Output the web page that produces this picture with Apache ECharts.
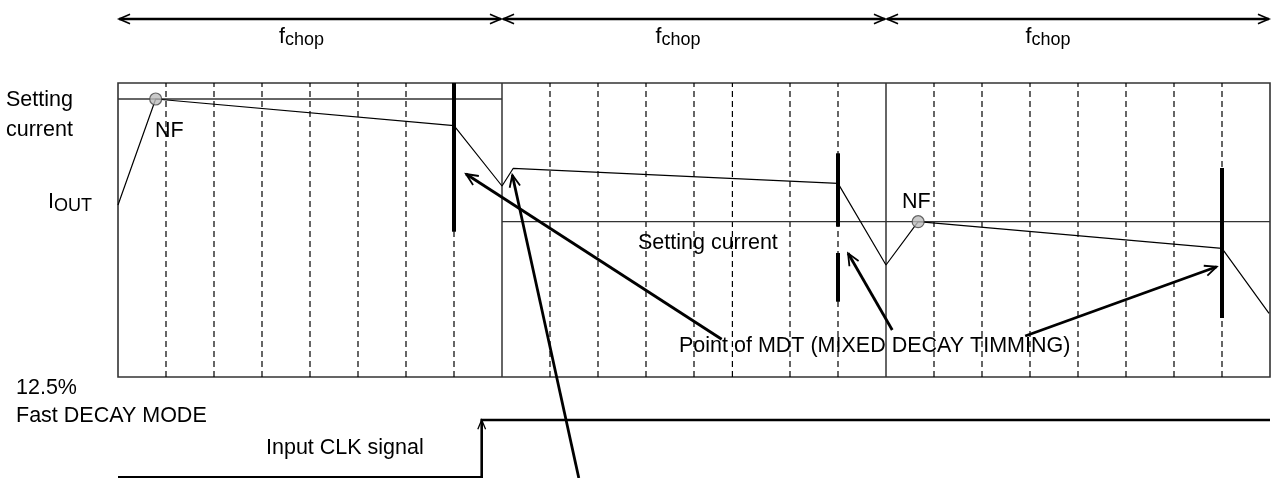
<!DOCTYPE html>
<html>
<head>
<meta charset="utf-8">
<script src="https://cdn.jsdelivr.net/npm/echarts@6/dist/echarts.min.js"></script>
<style>
  html, body { margin: 0; padding: 0; background: #fff; }
  #chart { width: 1279px; height: 478px; }
</style>
</head>
<body>
<div id="chart"></div>
<script>
  // x = time in chop sub-steps (8 per f_chop), y = current level (arbitrary units)
  const dashX = [1, 2, 3, 4, 5, 6, 7, 9, 10, 11, 12, 12.8, 14, 15, 17, 18, 19, 20, 21, 22, 23];
  const solidX = [8, 16];
  const iout = [[0, 86], [0.785, 139], [7, 125.65], [8, 95.5], [8.235, 104.35], [15, 96.8],
                [16, 56], [16.67, 77.65], [23, 64.35], [23.98, 31.85]];
  const settingA = [[0, 139], [8, 139]];
  const settingB = [[8, 77.65], [24, 77.65]];
  const nfPoints = [[0.785, 139], [16.67, 77.65]];
  const mdtBars = [[7, 147, 72.65], [15, 111.85, 75.15], [15, 62, 37.65], [23, 104.5, 29.5]];
  // tail x, tail y, tip x, tip y
  const pointers = [[12.577, 18.85, 7.25, 101.5], [16.13, 23.5, 15.21, 61.85],
                    [18.9, 20.5, 22.89, 55.15], [9.6, -50.5, 8.215, 101]];
  const chopSpans = [[0, 8], [8, 16], [16, 24]];
  const chopLevel = 179;
  const clkX = [0, 7.577, 7.577, 24];
  const clkY = [-50.15, -50.15, -21.5, -21.5];

  const FONT = '21.5px "Liberation Sans", Arial, sans-serif';
  const SUB = '18px "Liberation Sans", Arial, sans-serif';

  function head(tip, from, len, half) {
    const ang = Math.atan2(tip[1] - from[1], tip[0] - from[0]);
    const a1 = ang + Math.PI - half, a2 = ang + Math.PI + half;
    return [[tip[0] + len * Math.cos(a1), tip[1] + len * Math.sin(a1)], tip,
            [tip[0] + len * Math.cos(a2), tip[1] + len * Math.sin(a2)]];
  }

  function txt(x, y, text, font) {
    return { type: 'text', x: x, y: y, z: 50,
      style: { text: text, font: font || FONT, fill: '#000', align: 'left', verticalAlign: 'middle' } };
  }

  var chart = echarts.init(document.getElementById('chart'));
  chart.setOption({
    animation: false,
    grid: { left: 118, right: 9, top: 83, bottom: 101, show: true, borderColor: '#333', borderWidth: 1.6 },
    xAxis: { type: 'value', min: 0, max: 24, show: false },
    yAxis: { type: 'value', min: 0, max: 147, show: false },
    series: [
      {
        type: 'custom', z: 1,
        data: dashX.map(function (x) { return [x, 1]; }).concat(solidX.map(function (x) { return [x, 0]; })),
        renderItem: function (params, api) {
          const x = api.value(0);
          const p0 = api.coord([x, 0]), p1 = api.coord([x, 147]);
          const dashed = api.value(1) === 1;
          return { type: 'line', shape: { x1: p0[0], y1: p0[1], x2: p1[0], y2: p1[1] },
            style: { stroke: dashed ? '#000' : '#333', lineWidth: dashed ? 1.2 : 1.5, lineDash: dashed ? [6, 4] : null } };
        }
      },
      { type: 'line', z: 2, data: settingA, showSymbol: false, lineStyle: { color: '#333', width: 1.3 } },
      { type: 'line', z: 2, data: settingB, showSymbol: false, lineStyle: { color: '#333', width: 1.3 } },
      { type: 'line', z: 3, data: iout, showSymbol: false, lineStyle: { color: '#000', width: 1.2 } },
      {
        type: 'custom', z: 4, data: mdtBars,
        renderItem: function (params, api) {
          const p0 = api.coord([api.value(0), api.value(1)]), p1 = api.coord([api.value(0), api.value(2)]);
          return { type: 'line', shape: { x1: p0[0], y1: p0[1], x2: p1[0], y2: p1[1] },
            style: { stroke: '#000', lineWidth: 4 } };
        }
      },
      { type: 'scatter', z: 5, data: nfPoints, symbol: 'circle', symbolSize: 12,
        itemStyle: { color: '#bdbdbd', borderColor: '#444', borderWidth: 1.2 } },
      {
        type: 'custom', z: 6, data: pointers,
        renderItem: function (params, api) {
          const t = api.coord([api.value(0), api.value(1)]), p = api.coord([api.value(2), api.value(3)]);
          return { type: 'group', children: [
            { type: 'polyline', shape: { points: [t, p] }, style: { stroke: '#000', lineWidth: 2.8, fill: null } },
            { type: 'polyline', shape: { points: head(p, t, 13, 0.42) }, style: { stroke: '#000', lineWidth: 1.8, fill: null } }
          ] };
        }
      },
      {
        type: 'custom', z: 6, data: chopSpans,
        renderItem: function (params, api) {
          const a = api.coord([api.value(0), chopLevel]), b = api.coord([api.value(1), chopLevel]);
          a[0] += 1; b[0] -= 1;
          return { type: 'group', children: [
            { type: 'polyline', shape: { points: [a, b] }, style: { stroke: '#000', lineWidth: 2.6, fill: null } },
            { type: 'polyline', shape: { points: head(a, b, 12, 0.4) }, style: { stroke: '#000', lineWidth: 1.6, fill: null } },
            { type: 'polyline', shape: { points: head(b, a, 12, 0.4) }, style: { stroke: '#000', lineWidth: 1.6, fill: null } }
          ] };
        }
      },
      {
        type: 'custom', z: 6, data: [0],
        renderItem: function (params, api) {
          const pts = clkX.map(function (x, i) { return api.coord([x, clkY[i]]); });
          return { type: 'group', children: [
            { type: 'polyline', shape: { points: pts }, style: { stroke: '#000', lineWidth: 2.6, fill: null } },
            { type: 'polyline', shape: { points: head(pts[2], pts[1], 10, 0.4) }, style: { stroke: '#000', lineWidth: 1.3, fill: null } }
          ] };
        }
      }
    ],
    graphic: [
      txt(279, 37.5, 'f'), txt(285, 39.8, 'chop', SUB),
      txt(655.5, 37.5, 'f'), txt(661.5, 39.8, 'chop', SUB),
      txt(1025.5, 37.5, 'f'), txt(1031.5, 39.8, 'chop', SUB),
      txt(6, 100, 'Setting'), txt(6, 130, 'current'),
      txt(48, 202, 'I'), txt(54, 206.5, 'OUT', SUB),
      txt(155, 131.5, 'NF'), txt(902, 202.5, 'NF'),
      txt(638, 243, 'Setting current'),
      txt(679, 346.5, 'Point of MDT (MIXED DECAY TIMMING)'),
      txt(16, 388, '12.5%'), txt(16, 416.5, 'Fast DECAY MODE'),
      txt(266, 448, 'Input CLK signal')
    ]
  });
</script>
</body>
</html>
